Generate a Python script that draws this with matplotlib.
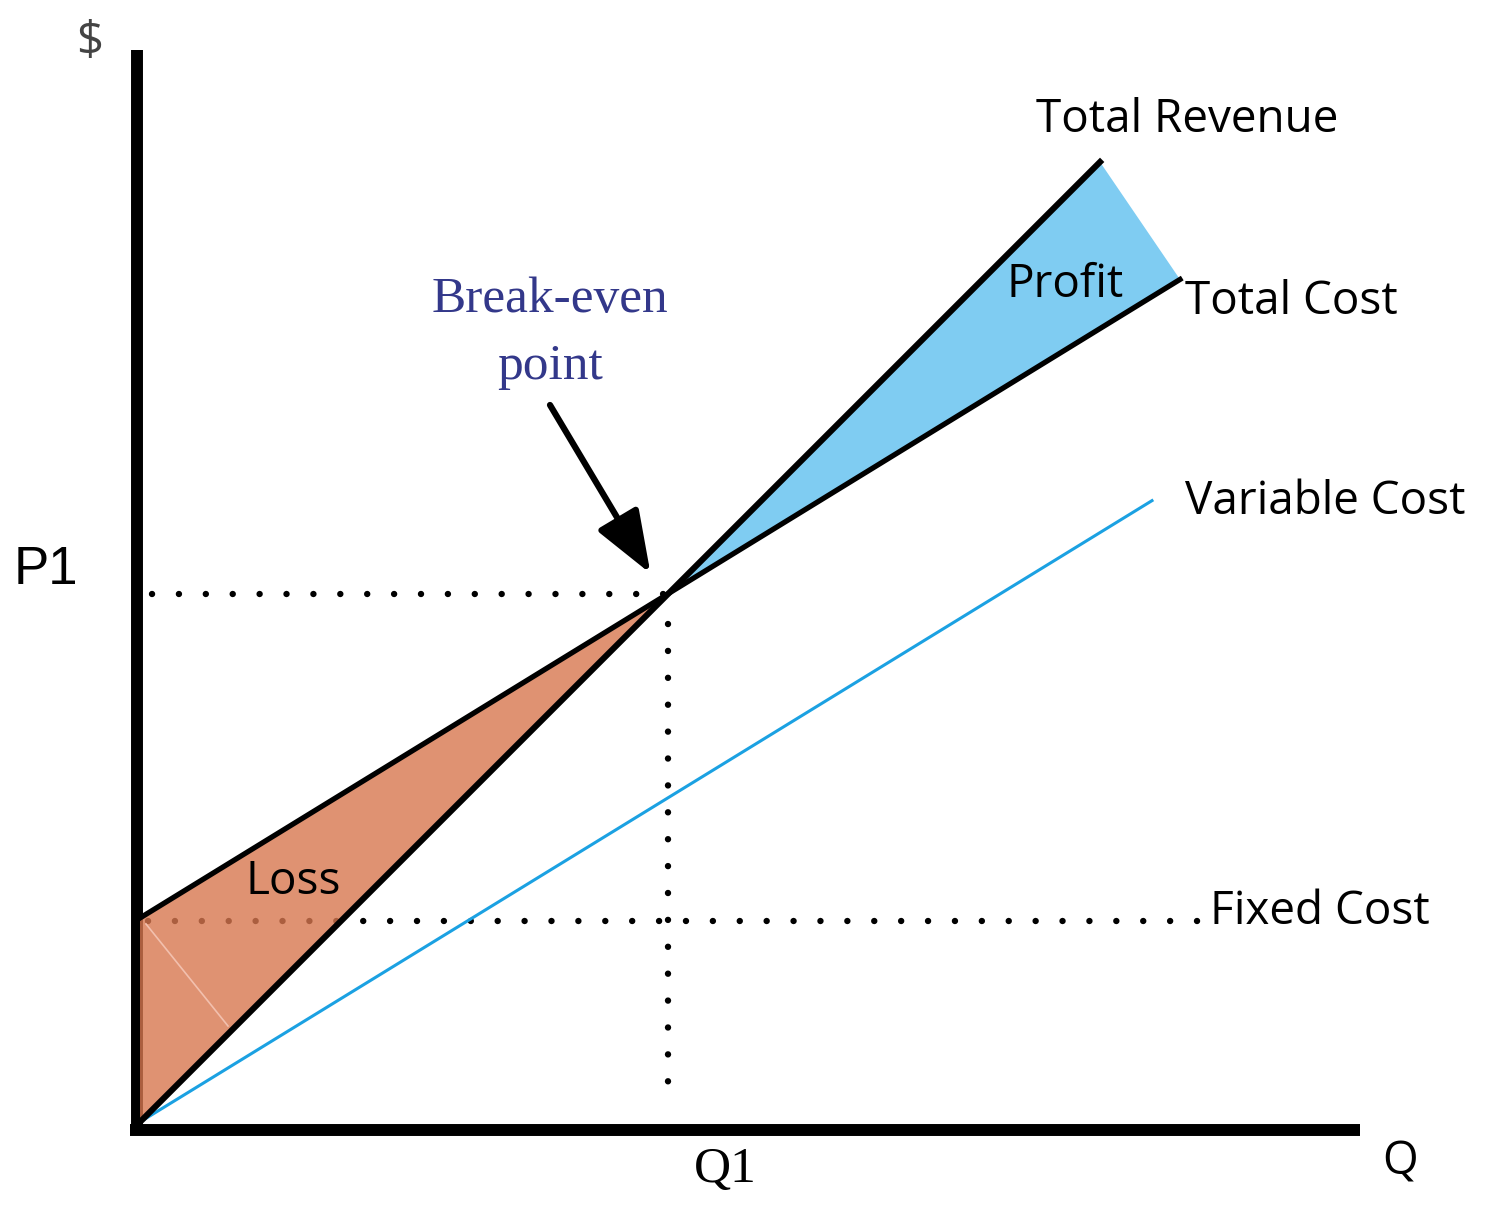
import matplotlib.pyplot as plt

# break-even model (units roughly match the drawing grid)
fixed_cost = 204
price = 1.0
unit_var_cost = 0.614
q_end_revenue = 960
q_end_cost = 1040
q_end_var = 1012
q_end_fixed = 1058

q_break_even = fixed_cost / (price - unit_var_cost)
p_break_even = price * q_break_even

fig = plt.figure(figsize=(14.98, 12.11), dpi=100)
ax = fig.add_axes([0, 0, 1, 1])
ax.set_xlim(-140, 1358)
ax.set_ylim(-89, 1122)
ax.axis("off")

sans = ["Open Sans", "DejaVu Sans"]
serif = ["Liberation Serif", "DejaVu Serif"]

# axes
ax.plot([-3, -3], [-13, 1072], color="black", lw=8.6, solid_capstyle="butt")
ax.plot([-10, 1220], [-8, -8], color="black", lw=8.6, solid_capstyle="butt")

dot = dict(color="black", lw=4.6, linestyle=(0, (0.01, 4.2)), dash_capstyle="round")

# fixed cost
ax.plot([8, q_end_fixed], [fixed_cost - 3, fixed_cost - 3], **dot)
# P1 / Q1 guides
ax.plot([12, q_break_even], [p_break_even, p_break_even], **dot)
ax.plot([q_break_even, q_break_even], [p_break_even - 30, 22], **dot)

# loss area
loss_q = [0, 0, q_break_even]
loss_y = [0, fixed_cost, p_break_even]
ax.fill(loss_q, loss_y, color="#D7774F", alpha=0.8, lw=0, zorder=2)
ax.plot([6, 88], [198, 96], color="#F2C0AE", lw=1.2, zorder=3)

# profit area
profit_q = [q_break_even, q_end_revenue, q_end_cost]
profit_y = [p_break_even, price * q_end_revenue, fixed_cost + unit_var_cost * q_end_cost]
ax.fill(profit_q, profit_y, color="#7FCCF2", lw=0, zorder=2)

# lines
ax.plot([0, q_end_var], [0, unit_var_cost * q_end_var], color="#1BA1E2", lw=2.2, zorder=4)
ax.plot([0, q_end_cost], [fixed_cost, fixed_cost + unit_var_cost * q_end_cost],
        color="black", lw=3.8, zorder=5)
ax.plot([0, q_end_revenue], [0, price * q_end_revenue], color="black", lw=4.4, zorder=5)

# arrow to break-even
ax.annotate("", xy=(q_break_even - 18, p_break_even + 20), xytext=(410, 717),
            arrowprops=dict(arrowstyle="-|>,head_length=1.2,head_width=0.45",
                            color="black", lw=4.5, mutation_scale=32,
                            shrinkA=0, shrinkB=0), zorder=6)

# labels
ax.text(-50, 1080, "$", fontsize=34, color="#444444", family=sans, ha="center", va="center")
ax.text(-94, 552, "P1", fontsize=38, color="black", family=["Liberation Sans", "DejaVu Sans"],
        ha="center", va="center")
ax.text(1047, 1002, "Total Revenue", fontsize=33, family=sans, ha="center", va="center")
ax.text(925, 837, "Profit", fontsize=33, family=sans, ha="center", va="center", zorder=7)
ax.text(1045, 820, "Total Cost", fontsize=33, family=sans, ha="left", va="center")
ax.text(1045, 620, "Variable Cost", fontsize=33, family=sans, ha="left", va="center")
ax.text(1070, 210, "Fixed Cost", fontsize=33, family=sans, ha="left", va="center")
ax.text(153, 240, "Loss", fontsize=33, family=sans, ha="center", va="center", zorder=7)
ax.text(410, 822, "Break-even", fontsize=37, family=serif, color="#33388A",
        ha="center", va="center")
ax.text(410, 755, "point", fontsize=37, family=serif, color="#33388A",
        ha="center", va="center")
ax.text(585, -48, "Q1", fontsize=37, family=serif, ha="center", va="center")
ax.text(1260, -40, "Q", fontsize=33, family=sans, ha="center", va="center")

fig.savefig("out.png", dpi=100)
